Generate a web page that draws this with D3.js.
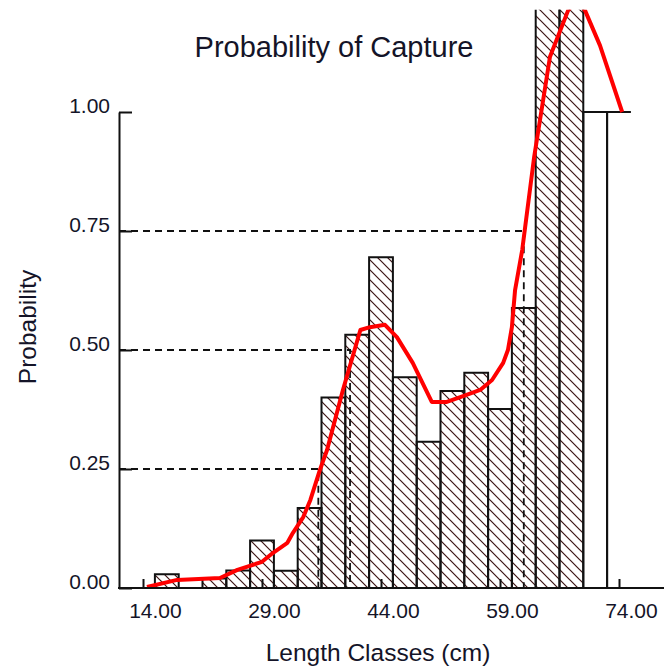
<!DOCTYPE html>
<html>
<head>
<meta charset="utf-8">
<script src="https://cdn.jsdelivr.net/npm/d3@7"></script>
<style>
  body { margin: 0; background: #fff; }
  text { font-family: "Liberation Sans", Arial, sans-serif; fill: #141428; }
</style>
</head>
<body>
<script>
// ----- data -----
const lengthClasses = [17, 20, 23, 26, 29, 32, 35, 38, 41, 44, 47, 50, 53, 56, 59, 62, 65, 68, 71, 74];
const observedProb  = [0.029, 0, 0.02, 0.037, 0.10, 0.036, 0.168, 0.40, 0.532, 0.695, 0.443, 0.307, 0.414, 0.452, 0.376, 0.588, 1.30, 1.30, 1.00, 1.00];
const openClasses = [71, 74];   // drawn without hatching
const classWidth = 3;

const fitLength = [14.5, 18.3, 23.7, 25.9, 29.0, 30.4, 32.2, 32.9, 34.2, 35.1, 36.3, 37.2, 39.2, 41.4, 42.6, 44.5, 46.0, 48.0, 50.4, 52.3, 54.0, 56.5, 58.0, 59.4, 60.0, 60.5, 60.9, 61.8, 63.3, 65.3, 67.6, 68.6, 69.7, 71.6, 74.4];
const fitProb   = [0.002, 0.017, 0.021, 0.038, 0.055, 0.074, 0.095, 0.116, 0.149, 0.185, 0.248, 0.29, 0.416, 0.542, 0.548, 0.553, 0.527, 0.473, 0.391, 0.391, 0.401, 0.416, 0.437, 0.473, 0.50, 0.548, 0.626, 0.71, 0.905, 1.116, 1.214, 1.235, 1.214, 1.14, 1.0];

// L25, L50, L75
const lcLength = [36.1, 40.1, 62.0];
const lcProb   = [0.25, 0.50, 0.75];

const xTicks = [14, 29, 44, 59, 74];
const yTicks = [0, 0.25, 0.5, 0.75, 1];

// ----- layout -----
const width = 664, height = 668;
const axisLeftX = 119, axisRightX = 664;

const x = d3.scaleLinear().domain([14, 74]).range([143, 619]);
const y = d3.scaleLinear().domain([0, 1]).range([588, 112]);

const svg = d3.select("body").append("svg")
    .attr("width", width)
    .attr("height", height);

const defs = svg.append("defs");

defs.append("clipPath")
    .attr("id", "plotClip")
    .append("rect")
    .attr("x", axisLeftX)
    .attr("y", y(1.215))
    .attr("width", axisRightX - axisLeftX)
    .attr("height", y(0) - y(1.215) + 1);

// diagonal hatch
const hatch = defs.append("pattern")
    .attr("id", "hatch")
    .attr("patternUnits", "userSpaceOnUse")
    .attr("width", 10)
    .attr("height", 10);
hatch.append("rect").attr("width", 10).attr("height", 10).attr("fill", "#fff");
hatch.append("path")
    .attr("d", "M-2,-2L12,12M-2,8L2,12M8,-2L12,2")
    .attr("stroke", "#3d1414")
    .attr("stroke-width", 1.2);

const plot = svg.append("g").attr("clip-path", "url(#plotClip)");

const bars = lengthClasses.map((d, i) => ({ len: d, p: observedProb[i], last: i === lengthClasses.length - 1 }));

// bar fills
plot.selectAll(".barFill")
    .data(bars)
    .enter()
    .append("rect")
    .attr("class", "barFill")
    .attr("x", d => x(d.len - classWidth / 2))
    .attr("y", d => y(d.p))
    .attr("width", d => x(d.len + classWidth / 2) - x(d.len - classWidth / 2))
    .attr("height", d => y(0) - y(d.p))
    .attr("fill", d => openClasses.includes(d.len) ? "#fff" : "url(#hatch)");

// bar outlines (last class has no right edge)
plot.selectAll(".barEdge")
    .data(bars)
    .enter()
    .append("path")
    .attr("class", "barEdge")
    .attr("d", d => {
        const x0 = x(d.len - classWidth / 2), x1 = x(d.len + classWidth / 2);
        let s = "M" + x0 + "," + y(0) + "V" + y(d.p) + "H" + x1;
        if (!d.last) s += "V" + y(0);
        return s;
    })
    .attr("fill", "none")
    .attr("stroke", "#111")
    .attr("stroke-width", 2);

// dashed guides for L25 / L50 / L75
lcLength.forEach((L, i) => {
    plot.append("path")
        .attr("d", "M" + axisLeftX + "," + y(lcProb[i]) + "H" + x(L) + "V" + y(0))
        .attr("fill", "none")
        .attr("stroke", "#111")
        .attr("stroke-width", 1.8)
        .attr("stroke-dasharray", "7,5");
});

// fitted curve
const line = d3.line()
    .x((d, i) => x(fitLength[i]))
    .y(d => y(d));

plot.append("path")
    .datum(fitProb)
    .attr("d", line)
    .attr("fill", "none")
    .attr("stroke", "#ff0000")
    .attr("stroke-width", 4)
    .attr("stroke-linejoin", "round");

// ----- axes -----
const yAxis = svg.append("g")
    .attr("transform", "translate(" + axisLeftX + ",0)")
    .call(d3.axisLeft(y).tickValues(yTicks).tickFormat(d3.format(".2f"))
        .tickSize(-13).tickSizeOuter(0).tickPadding(9));
yAxis.select(".domain").attr("stroke", "#111").attr("stroke-width", 2);
yAxis.selectAll(".tick line").attr("stroke", "#111").attr("stroke-width", 2);
yAxis.selectAll(".tick text")
    .attr("dy", "0.02em")
    .style("font-size", "21px")
    .style("font-family", "Liberation Sans, Arial, sans-serif")
    .attr("fill", "#141428");

const labelShift = x(14 + classWidth / 2) - x(14);
const xAxis = svg.append("g")
    .attr("transform", "translate(0," + y(0) + ")")
    .call(d3.axisBottom(x).tickValues(xTicks).tickFormat(d3.format(".2f"))
        .tickSize(-9).tickSizeOuter(0).tickPadding(15));
xAxis.select(".domain").remove();
xAxis.selectAll(".tick line").attr("stroke", "#111").attr("stroke-width", 2);
xAxis.selectAll(".tick text")
    .attr("dx", labelShift)
    .style("font-size", "21px")
    .style("font-family", "Liberation Sans, Arial, sans-serif")
    .attr("fill", "#141428");

svg.append("line")
    .attr("x1", axisLeftX - 1).attr("x2", axisRightX)
    .attr("y1", y(0)).attr("y2", y(0))
    .attr("stroke", "#111")
    .attr("stroke-width", 2);

// ----- titles -----
svg.append("text")
    .attr("x", 334)
    .attr("y", 57)
    .attr("text-anchor", "middle")
    .style("font-size", "29px")
    .text("Probability of Capture");

svg.append("text")
    .attr("x", 378)
    .attr("y", 661)
    .attr("text-anchor", "middle")
    .style("font-size", "24.5px")
    .text("Length Classes (cm)");

svg.append("text")
    .attr("transform", "translate(36,327) rotate(-90)")
    .attr("text-anchor", "middle")
    .style("font-size", "24.5px")
    .text("Probability");
</script>
</body>
</html>
